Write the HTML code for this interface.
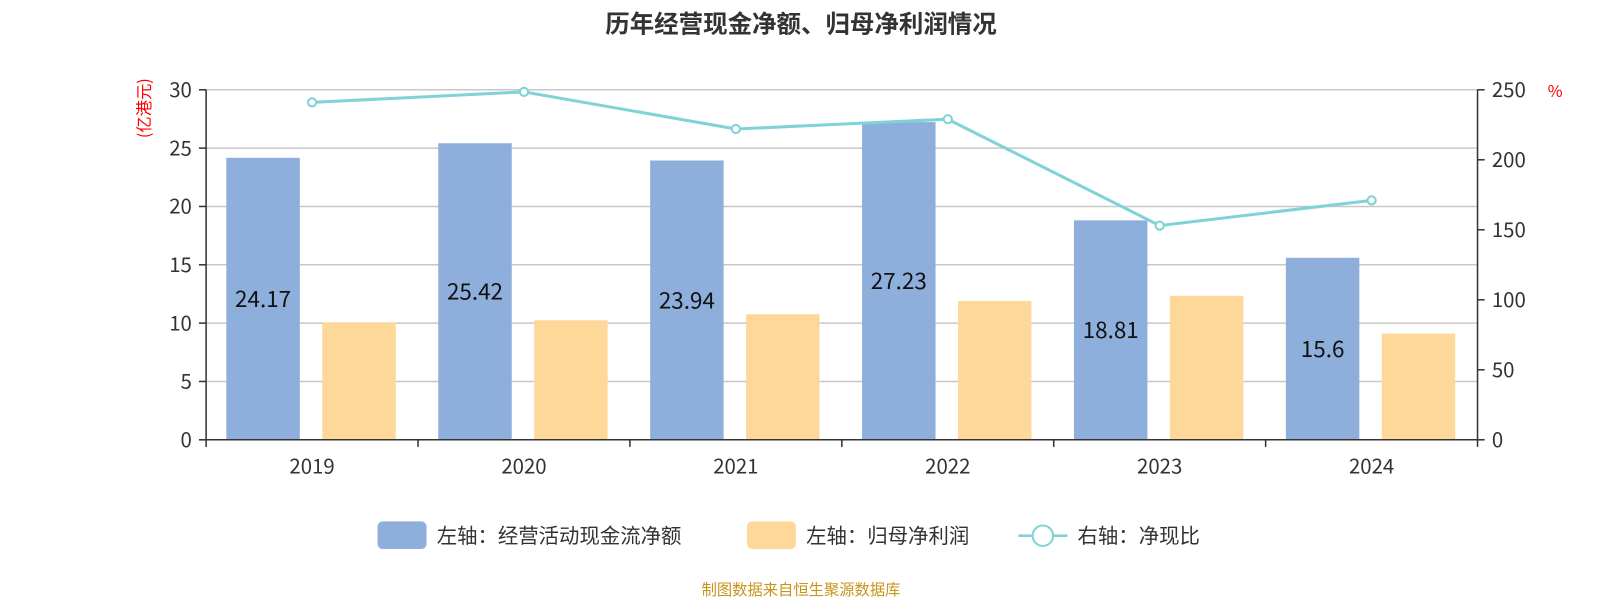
<!DOCTYPE html>
<html><head><meta charset="utf-8"><style>
html,body{margin:0;padding:0;background:#fff;}
svg{display:block;font-family:"Noto Sans CJK SC","Liberation Sans",sans-serif;}
</style></head><body>
<svg id="chart" width="1600" height="600" viewBox="0 0 1600 600" xmlns="http://www.w3.org/2000/svg">
<g transform="scale(1.0204)">
<text x="785" y="32" text-anchor="middle" font-size="24" font-weight="bold" fill="#333">历年经营现金净额、归母净利润情况</text>
<text transform="translate(147,106) rotate(-90)" text-anchor="middle" font-size="16" fill="#f00">(亿港元)</text>
<text x="1524" y="95" text-anchor="middle" font-size="16" fill="#f00">%</text>
<g id="grid"></g><g id="bars"></g><g id="line"></g><g id="axes"></g>
<g>
<g><rect x="370" y="511" width="48" height="27" rx="5" fill="#8eaedb"/><text x="428" y="532" font-size="20" fill="#333">左轴：经营活动现金流净额</text></g>
<g><rect x="732" y="511" width="48" height="27" rx="5" fill="#fed899"/><text x="790" y="532" font-size="20" fill="#333">左轴：归母净利润</text></g>
<g><line x1="998" y1="525" x2="1046" y2="525" stroke="#7fd3d6" stroke-width="2.5"/><circle cx="1022" cy="525" r="10" fill="#fff" stroke="#7fd3d6" stroke-width="2"/><text x="1056" y="532" font-size="20" fill="#333">右轴：净现比</text></g>
</g>
<text x="785" y="583" text-anchor="middle" font-size="15" fill="#c8941c">制图数据来自恒生聚源数据库</text>
</g>
</svg>
<script>
const categories=["2019","2020","2021","2022","2023","2024"];
const cashFlow=[24.17,25.42,23.94,27.23,18.81,15.6];
const netProfit=[10.06,10.24,10.76,11.9,12.34,9.1];
const ratio=[241,248.5,222,229,153,171];
const leftTicks=[0,5,10,15,20,25,30];
const rightTicks=[0,50,100,150,200,250];
const NS="http://www.w3.org/2000/svg";
const X0=202,X1=1448,Y0=431,Y1=88;
const band=(X1-X0)/categories.length;
const yL=v=>Y0-(v/30)*(Y0-Y1);
const yR=v=>Y0-(v/250)*(Y0-Y1);
const xC=i=>X0+band*(i+0.5);
function mk(tag,attrs,parent){const e=document.createElementNS(NS,tag);for(const k in attrs)e.setAttribute(k,attrs[k]);parent.appendChild(e);return e;}
const grid=document.getElementById('grid'),bars=document.getElementById('bars'),lineG=document.getElementById('line'),axes=document.getElementById('axes');
leftTicks.forEach(t=>{
 const y=yL(t);
 if(t>0){const g=mk('line',{x1:X0,x2:X1,y1:y,y2:y,stroke:'#c8c8c8','stroke-width':1.5},grid);
 
 }
 mk('line',{x1:X0-7,x2:X0,y1:y,y2:y,stroke:'#333','stroke-width':1.5},axes);
 const tx=mk('text',{x:X0-14,y:y+7,'text-anchor':'end','font-size':20,fill:'#333'},axes);
 tx.textContent=t;
 
 
});
rightTicks.forEach(t=>{
 const y=yR(t);
 mk('line',{x1:X1,x2:X1+7,y1:y,y2:y,stroke:'#333','stroke-width':1.5},axes);
 const tx=mk('text',{x:X1+14,y:y+7,'font-size':20,fill:'#333'},axes);
 tx.textContent=t;
 
 
});
mk('line',{x1:X0,x2:X0,y1:Y1,y2:Y0,stroke:'#333','stroke-width':1.5},axes);
mk('line',{x1:X1,x2:X1,y1:Y1,y2:Y0,stroke:'#333','stroke-width':1.5},axes);
mk('line',{x1:X0,x2:X1,y1:Y0,y2:Y0,stroke:'#333','stroke-width':1.5},axes);
for(let i=0;i<=categories.length;i++){const x=X0+band*i;mk('line',{x1:x,x2:x,y1:Y0,y2:Y0+7,stroke:'#333','stroke-width':1.5},axes);}
categories.forEach((c,i)=>{
 const cx=xC(i);
 const tx=mk('text',{x:cx,y:Y0+33,'text-anchor':'middle','font-size':20,fill:'#333'},axes);
 tx.textContent=c;
 
 
 const b1=mk('rect',{x:cx-84,y:yL(cashFlow[i]),width:72,height:Y0-yL(cashFlow[i]),fill:'#8eaedb'},bars);
 
 
 const b2=mk('rect',{x:cx+10,y:yL(netProfit[i]),width:72,height:Y0-yL(netProfit[i]),fill:'#fed899'},bars);
 
 
 const lb=mk('text',{x:cx-48,y:(yL(cashFlow[i])+Y0)/2+8,'text-anchor':'middle','font-size':22,fill:'#111'},bars);
 lb.textContent=cashFlow[i];
 
 
});
const pts=ratio.map((v,i)=>xC(i)+','+yR(v)).join(' ');
const pl=mk('polyline',{points:pts,fill:'none',stroke:'#7fd3d6','stroke-width':3},lineG);


ratio.forEach((v,i)=>{
 const c=mk('circle',{cx:xC(i),cy:yR(v),r:4,fill:'#fff',stroke:'#7fd3d6','stroke-width':2},lineG);
 
 
});
</script>
</body></html>
